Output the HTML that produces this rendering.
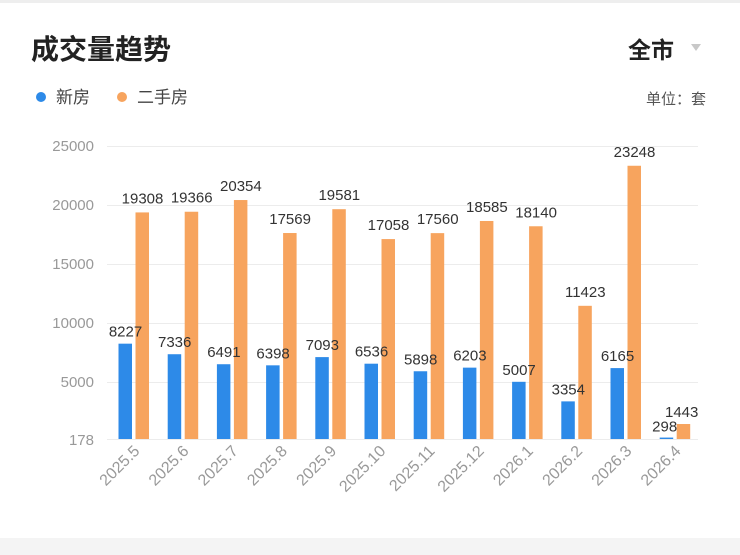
<!DOCTYPE html>
<html><head><meta charset="utf-8"><style>
html,body{margin:0;padding:0;background:#fff;}
body{width:740px;height:555px;overflow:hidden;position:relative;font-family:"Liberation Sans","Noto Sans CJK SC",sans-serif;}
</style></head><body>
<svg width="740" height="555" xmlns="http://www.w3.org/2000/svg" style="position:absolute;left:0;top:0;font-family:'Liberation Sans','Noto Sans CJK SC',sans-serif">
<rect x="0" y="0" width="740" height="3" fill="#eeeeee"/>
<rect x="0" y="538" width="740" height="17" fill="#f4f4f4"/>
<text x="31" y="59" font-size="28" font-weight="bold" fill="#222">成交量趋势</text>
<text x="628" y="58" font-size="23" font-weight="bold" fill="#222">全市</text>
<path d="M691 44 L701 44 L696 51 Z" fill="#c8c8c8"/>
<circle cx="41" cy="97" r="5" fill="#2d8ae8"/>
<text x="56" y="103" font-size="17" fill="#444">新房</text>
<circle cx="122" cy="97" r="5" fill="#f7a45e"/>
<text x="137" y="103" font-size="17" fill="#444">二手房</text>
<text x="706" y="104" font-size="15" fill="#555" text-anchor="end">单位：套</text>
<g stroke="#ececec" stroke-width="1">
<line x1="107" y1="146.5" x2="698" y2="146.5"/>
<line x1="107" y1="205.5" x2="698" y2="205.5"/>
<line x1="107" y1="264.5" x2="698" y2="264.5"/>
<line x1="107" y1="323.5" x2="698" y2="323.5"/>
<line x1="107" y1="382.5" x2="698" y2="382.5"/>
<line x1="107" y1="439.5" x2="698" y2="439.5"/>
</g>
<g font-size="15" fill="#999" text-anchor="end">
<text x="94" y="151">25000</text>
<text x="94" y="210">20000</text>
<text x="94" y="269">15000</text>
<text x="94" y="328">10000</text>
<text x="94" y="387">5000</text>
<text x="94" y="445">178</text>
</g>
<g id="bars"></g>
</svg>
<script>
var d=[["2025.5",8227,19308],["2025.6",7336,19366],["2025.7",6491,20354],["2025.8",6398,17569],["2025.9",7093,19581],["2025.10",6536,17058],["2025.11",5898,17560],["2025.12",6203,18585],["2026.1",5007,18140],["2026.2",3354,11423],["2026.3",6165,23248],["2026.4",298,1443]];
var g=document.getElementById('bars'),h='';
function y(v){return 439-(v-178)*0.011844;}
d.forEach(function(r,i){
var bx=118.5+49.2*i,ox=bx+17;
var yb=y(r[1]),yo=y(r[2]);
h+='<rect x="'+bx+'" y="'+yb+'" width="13.5" height="'+(439-yb)+'" fill="#2d8ae8"/>';
h+='<rect x="'+ox+'" y="'+yo+'" width="13.5" height="'+(439-yo)+'" fill="#f7a45e"/>';
var lb=yb-7,lo=yo-9;
if(i==11){lb=yb-6;lo=yo-7;}
h+='<text x="'+(bx+7+(i==11?-2:0))+'" y="'+lb+'" font-size="15" fill="#333" text-anchor="middle">'+r[1]+'</text>';
h+='<text x="'+(ox+7+(i==11?-2:0))+'" y="'+lo+'" font-size="15" fill="#333" text-anchor="middle">'+r[2]+'</text>';
var tx=bx+22,ty=452;
h+='<text x="'+tx+'" y="'+ty+'" font-size="16" fill="#999" text-anchor="end" transform="rotate(-45 '+tx+' '+ty+')">'+r[0]+'</text>';
});
g.innerHTML=h;
</script>
</body></html>
